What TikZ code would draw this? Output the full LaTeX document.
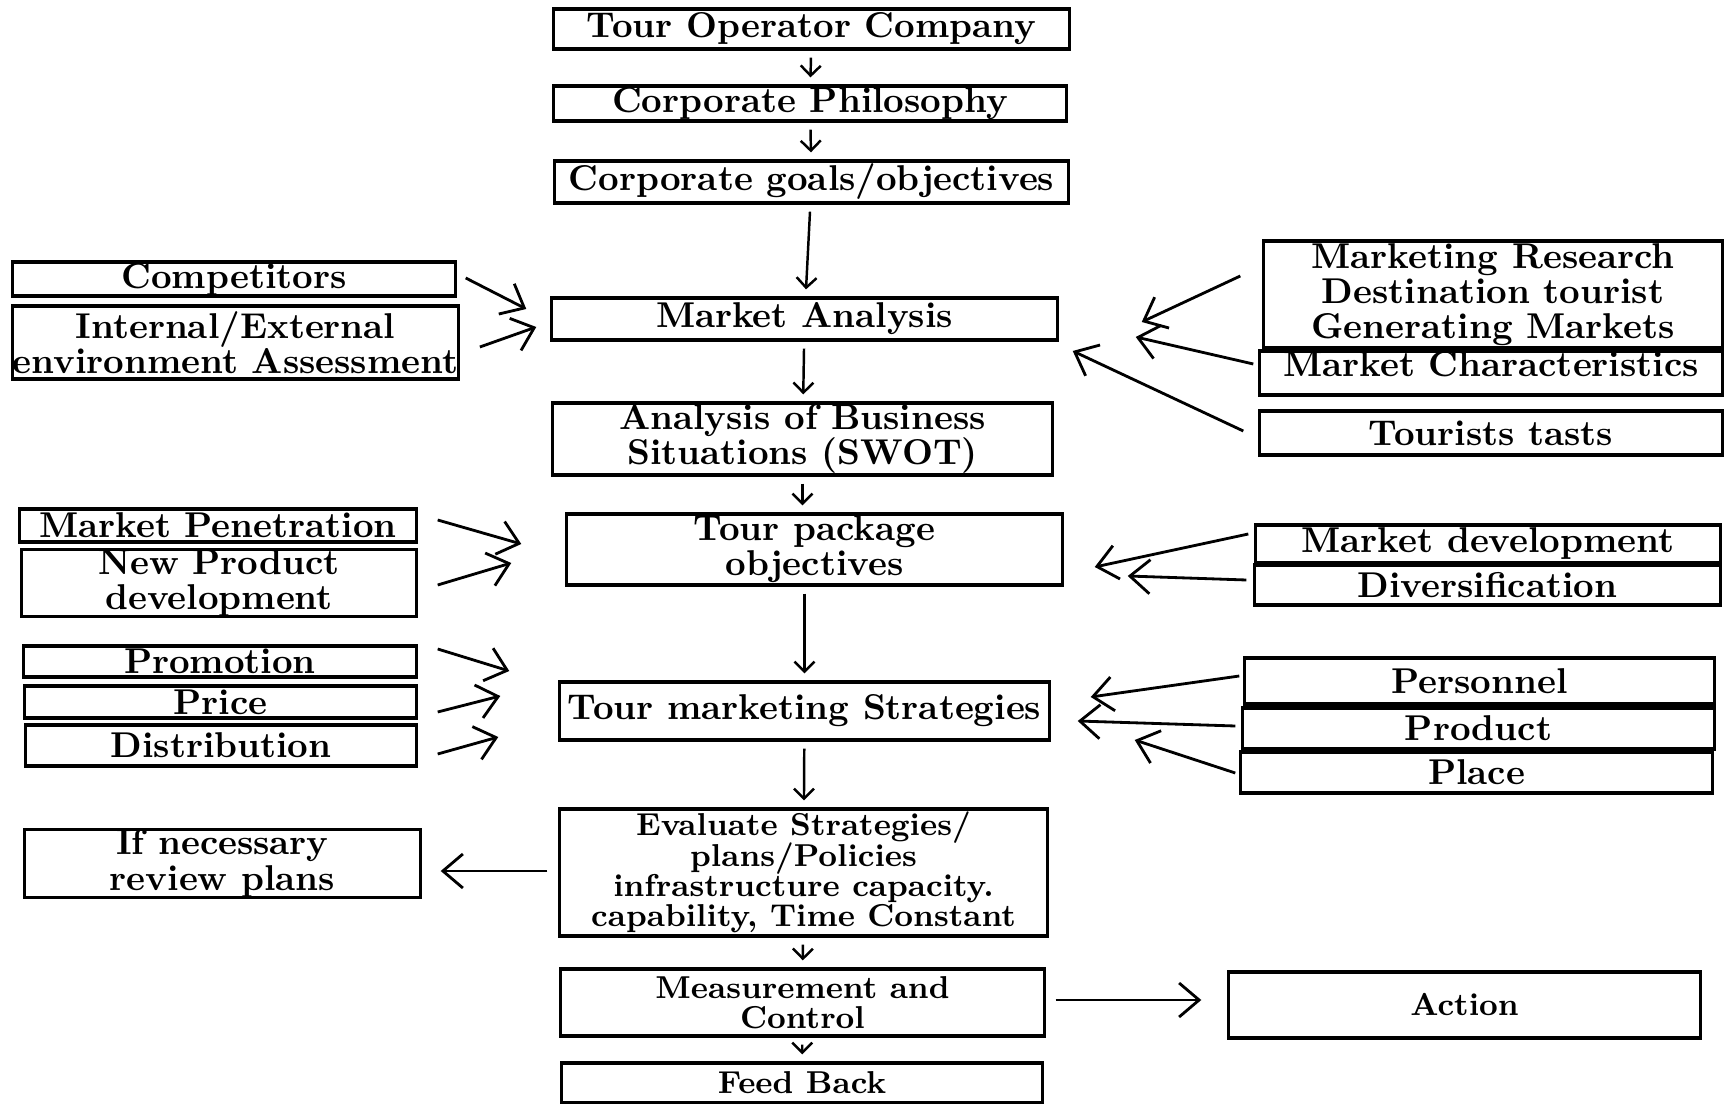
\documentclass[tikz,border=0pt]{standalone}
\usepackage{tikz}
\usetikzlibrary{arrows.meta,calc}
\lineskiplimit=-\maxdimen
\tikzset{
	box/.style 2 args={draw, line width=0.9pt, inner sep=0pt, align=center,
		minimum width=#1, minimum height=#2, font=\fontsize{10.2}{10}\selectfont\bfseries},
	cbox/.style 2 args={box={#1}{#2}, font=\fontsize{9}{8.6}\selectfont\bfseries},
	vline/.style={-{Straight Barb[length=1mm,width=2mm]}, line width=0.7pt, shorten <=2pt, shorten >=2pt},
	sidearrow/.style={-{Straight Barb[length=2mm,width=3.4mm]}, line width=0.8pt}
}
\begin{document}
\begin{tikzpicture}[x=0.01cm, y=-0.01cm]
			\path[use as bounding box, fill=white] (0,0) rectangle (1731,1104);
			\node[box={5.15cm}{0.40cm}] (tour) at (811.5,29) {Tour Operator Company};
			\node[box={5.12cm}{0.35cm}] (phil) at (810,103.5) {Corporate Philosophy};
			\node[box={5.13cm}{0.42cm}] (goals) at (811.5,182) {Corporate goals/objectives};
			\node[box={5.05cm}{0.42cm}] (mkt) at (804.5,319) {Market Analysis};
			\node[box={4.99cm}{0.72cm}] (swot) at (802.5,439) {Analysis of Business\\Situations (SWOT)};
			\node[box={4.95cm}{0.71cm}] (pkg) at (814.5,549.5) {Tour package\\objectives};
			\node[box={4.89cm}{0.58cm}] (strat) at (804.5,711) {Tour marketing Strategies};
			\node[cbox={4.87cm}{1.27cm}] (eval) at (803.5,872.5) {Evaluate Strategies/\\plans/Policies\\infrastructure capacity.\\capability, Time Constant};
			\node[cbox={4.83cm}{0.67cm}] (meas) at (802.5,1002.5) {Measurement and\\Control};
			\node[cbox={4.80cm}{0.40cm}] (fb) at (802,1083) {Feed Back};

			\node[box={4.42cm}{0.34cm}] (comp) at (234,279) {Competitors};
			\node[box={4.45cm}{0.73cm}] (env) at (235.5,342.5) {Internal/External\\environment Assessment};
			\node[box={3.96cm}{0.33cm}] (pen) at (218,525.5) {Market Penetration};
			\node[box={3.94cm}{0.66cm}] (newp) at (219,583) {New Product\\development};
			\node[box={3.92cm}{0.31cm}] (promo) at (220,661.5) {Promotion};
			\node[box={3.91cm}{0.32cm}] (price) at (220.5,702) {Price};
			\node[box={3.90cm}{0.41cm}] (dist) at (221,745.5) {Distribution};
			\node[box={3.95cm}{0.65cm}] (review) at (222.5,863.5) {If necessary\\review plans};

			\node[box={4.58cm}{1.07cm}] (research) at (1493,294.5) {Marketing Research\\Destination tourist\\Generating Markets};
			\node[box={4.62cm}{0.44cm}, text depth=5pt] (chars) at (1491,373) {Market Characteristics};
			\node[box={4.62cm}{0.44cm}] (taste) at (1491,433) {Tourists tasts};
			\node[box={4.64cm}{0.38cm}] (mdev) at (1488,544) {Market development};
			\node[box={4.65cm}{0.40cm}] (div) at (1487.5,585) {Diversification};
			\node[box={4.69cm}{0.46cm}] (pers) at (1479.5,681) {Personnel};
			\node[box={4.71cm}{0.41cm}] (prod) at (1478.5,728.5) {Product};
			\node[box={4.71cm}{0.41cm}] (place) at (1476.5,772.5) {Place};
			\node[cbox={4.71cm}{0.66cm}] (action) at (1464.5,1005) {Action};

			\path[vline]
			(tour) edge (phil)
			(phil) edge (goals)
			(goals) edge (mkt)
			(mkt) edge (swot)
			(swot.south) edge (swot.south |- pkg.north)
			(pkg.south -| strat.north) edge (strat.north)
			(strat) edge (eval)
			(eval) edge (meas)
			(meas) edge (fb);

			\draw[sidearrow] ($(comp.east)+(9,-1)$) -- ($(mkt.west)+(-24,-10)$);
			\draw[sidearrow] ($(env.east)+(20,4.5)$) -- ($(mkt.west)+(-14,8)$);
			\draw[sidearrow] ($(pen.east)+(20,-5.5)$) -- ($(pkg.west)+(-44,-5.5)$);
			\draw[sidearrow] ($(newp.east)+(20,2)$) -- ($(pkg.west)+(-54,13.5)$);
			\draw[sidearrow] ($(promo.east)+(20,-12.5)$) -- ($(strat.west)+(-49,-40)$);
			\draw[sidearrow] ($(price.east)+(20,10)$) -- ($(strat.west)+(-58,-15)$);
			\draw[sidearrow] ($(dist.east)+(20,8.5)$) -- ($(strat.west)+(-60,26)$);
			\draw[sidearrow] ($(eval.west)+(-11,-1.5)$) -- ($(review.east)+(19,7.5)$);
			\draw[sidearrow] ($(research.west)+(-22,-18.5)$) -- ($(mkt.east)+(83,3)$);
			\draw[sidearrow] ($(chars.west)+(-5,-9)$) -- ($(mkt.east)+(77,18)$);
			\draw[sidearrow] ($(taste.west)+(-15,-2)$) -- ($(mkt.east)+(14,32)$);
			\draw[sidearrow] ($(mdev.west)+(-6,-10)$) -- ($(pkg.east)+(31,17.5)$);
			\draw[sidearrow] ($(div.west)+(-7,-5)$) -- ($(pkg.east)+(64,26.5)$);
			\draw[sidearrow] ($(pers.west)+(-4,-5)$) -- ($(strat.east)+(40,-14)$);
			\draw[sidearrow] ($(prod.west)+(-6,-2.5)$) -- ($(strat.east)+(27,10)$);
			\draw[sidearrow] ($(place.west)+(-4,0.5)$) -- ($(strat.east)+(84,29)$);
			\draw[sidearrow] ($(meas.east)+(10,-2.5)$) -- ($(action.west)+(-26,-5)$);
		\end{tikzpicture}
\end{document}
